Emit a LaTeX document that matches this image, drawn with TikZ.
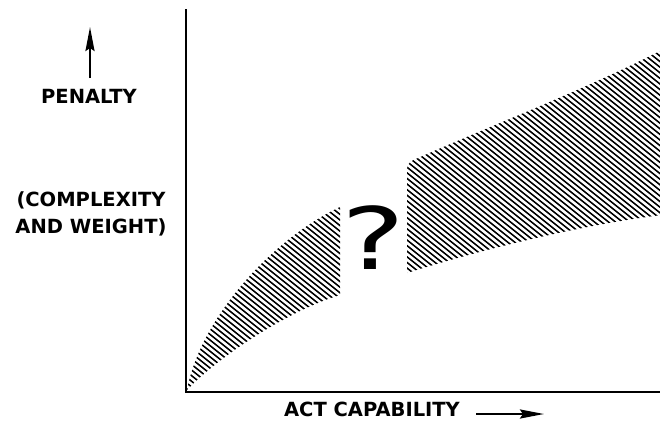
\documentclass[tikz,border=0pt]{standalone}
\usepackage{fontspec}
\setmainfont{DejaVu Sans}
\usetikzlibrary{positioning,arrows.meta,calc}
\tikzset{
  axis/.style={line width=2.4pt, line cap=rect},
  label/.style={font=\fontsize{19.5}{27}\selectfont\bfseries, align=center, inner sep=0pt},
  connect/.style={-{Stealth[length=24pt,width=9pt,inset=3pt]}, line width=2.4pt},
  hatch/.style={line width=1.5pt}
}

\begin{document}
\begin{tikzpicture}[x=1pt,y=-1pt]
    \useasboundingbox (0,0) rectangle (660,428);

    \coordinate (O) at (186,392);
    \coordinate (Ytop) at (186,10);
    \coordinate (Xend) at (662,392);

    \node[label] (Penalty) at (89,96) {PENALTY};
    \node[label] (Complex) at (91,214) {(COMPLEXITY\\AND WEIGHT)};
    \node[label] (Act) at (372,409) {ACT CAPABILITY};
    \node[inner sep=0pt,font=\fontsize{86}{86}\selectfont,xscale=1.4] (Q) at (373,238) {?};

    \coordinate (UpA) at (90,78);
    \coordinate (UpB) at (90,27);
    \coordinate (RtA) at (476,414);
    \coordinate (RtB) at (544,414);

    % hatched bands
    \begin{scope}
      \clip (187,390) .. controls (200,320) and (270,240) .. (340,207)
            -- (340,295) .. controls (290,310) and (220,355) .. (187,390) -- cycle
            [rounded corners=6pt] (407,273) -- (407,163) [sharp corners]
            .. controls (480,130) and (580,92) .. (662,50)
            -- (662,215) .. controls (580,225) and (480,250) .. (407,273) -- cycle;
      \foreach \c in {-320,-313,...,620}
        \draw[hatch] (\c,0) -- ++(550,440);
    \end{scope}

    \draw[axis] (Ytop) -- (O) -- (Xend);
    \path (UpA) edge [connect] (UpB)
          (RtA) edge [connect] (RtB);
\end{tikzpicture}
\end{document}
